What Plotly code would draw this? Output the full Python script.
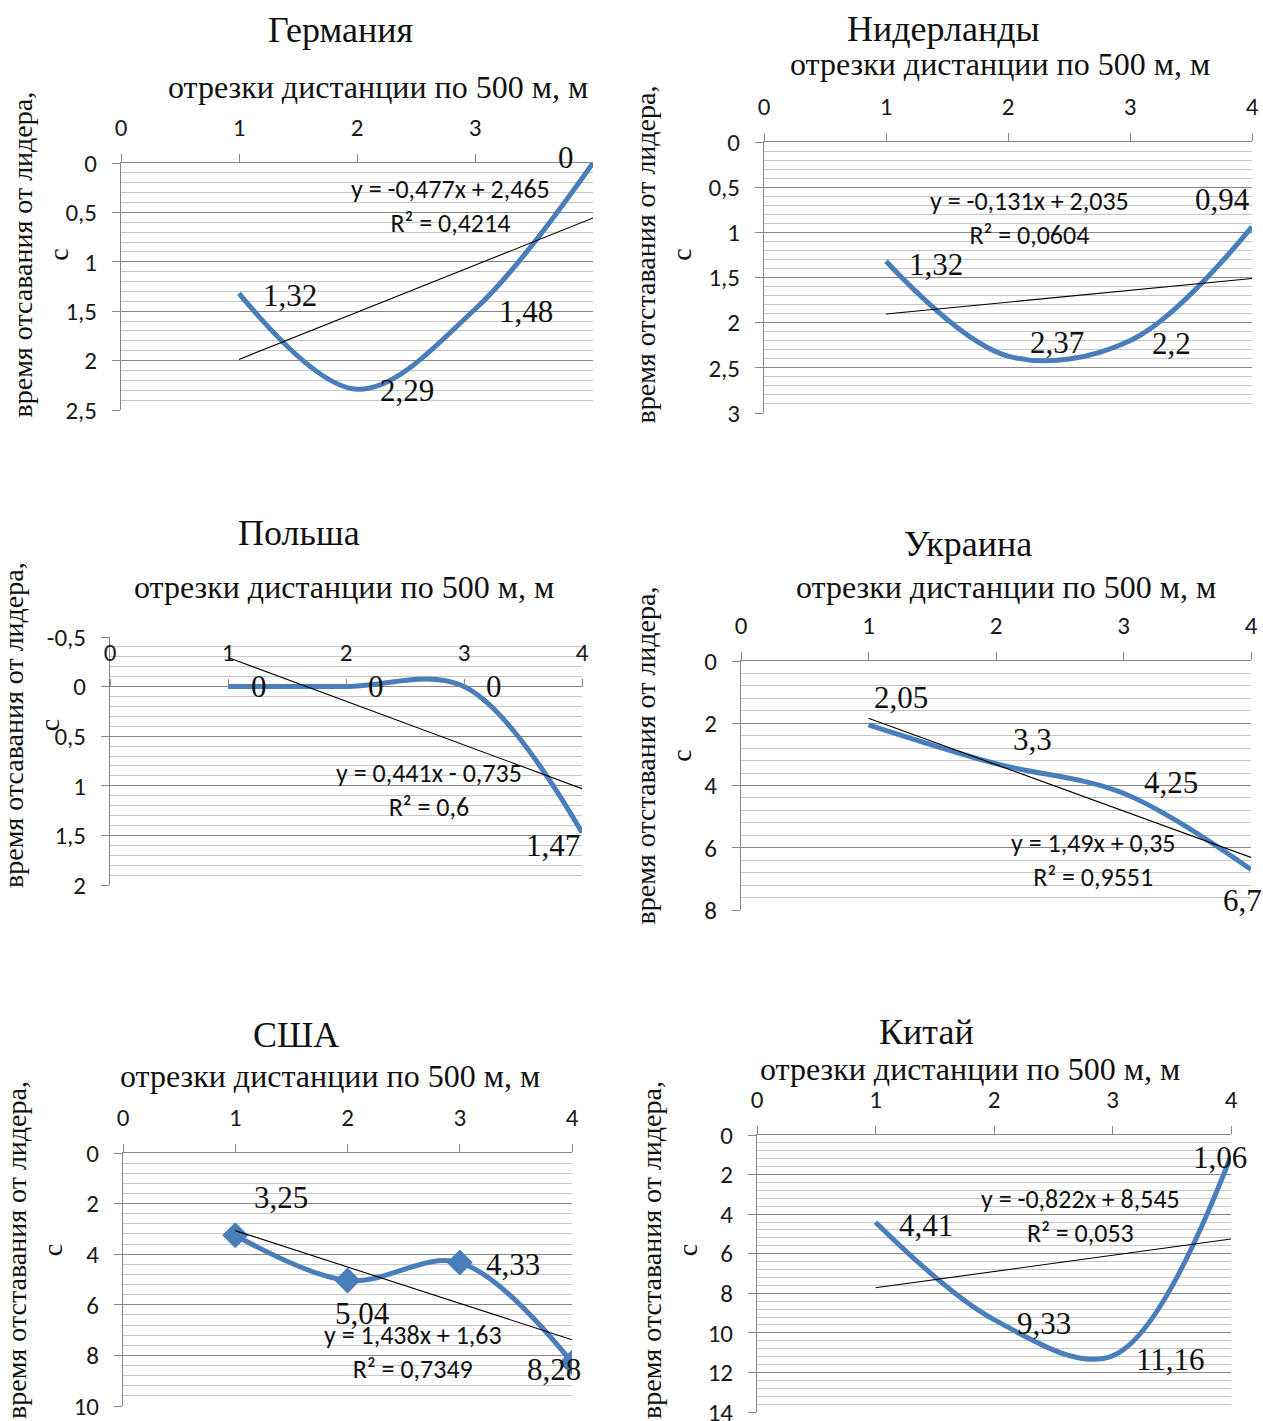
import plotly.graph_objects as go

W, H = 1263, 1421

# ---------------- data ----------------
segments = [1, 2, 3, 4]
x_tick_values = [0, 1, 2, 3, 4]

titles = ["Германия", "Нидерланды", "Польша", "Украина", "США", "Китай"]
x_title = "отрезки дистанции по 500 м, м"
y_titles = [
    "время отсавания от лидера,<br>с",
    "время отставания от лидера,<br>с",
    "время отсавания от лидера,<br>с",
    "время отставания от лидера,<br>с",
    "время отставания от лидера,<br>с",
    "время отставания от лидера,<br>с",
]

germany = [1.32, 2.29, 1.48, 0]
netherlands = [1.32, 2.37, 2.2, 0.94]
poland = [0, 0, 0, 1.47]
ukraine = [2.05, 3.3, 4.25, 6.7]
usa = [3.25, 5.04, 4.33, 8.28]
china = [4.41, 9.33, 11.16, 1.06]
series = [germany, netherlands, poland, ukraine, usa, china]

trend_slope = [-0.477, -0.131, 0.441, 1.49, 1.438, -0.822]
trend_intercept = [2.465, 2.035, -0.735, 0.35, 1.63, 8.545]
r_squared = ["0,4214", "0,0604", "0,6", "0,9551", "0,7349", "0,053"]

germany_y_ticks = [0, 0.5, 1, 1.5, 2, 2.5]
netherlands_y_ticks = [0, 0.5, 1, 1.5, 2, 2.5, 3]
poland_y_ticks = [-0.5, 0, 0.5, 1, 1.5, 2]
ukraine_y_ticks = [0, 2, 4, 6, 8]
usa_y_ticks = [0, 2, 4, 6, 8, 10]
china_y_ticks = [0, 2, 4, 6, 8, 10, 12, 14]
y_ticks = [germany_y_ticks, netherlands_y_ticks, poland_y_ticks,
           ukraine_y_ticks, usa_y_ticks, china_y_ticks]
y_minor_step = [0.1, 0.1, 0.1, 0.4, 0.4, 0.4]
x_shown_ticks = [[0, 1, 2, 3], x_tick_values, x_tick_values,
                 x_tick_values, x_tick_values, x_tick_values]

# ---------------- layout / style ----------------
plot_px = [  # left, right, top, bottom (pixels)
    (121, 593, 163, 410),
    (764, 1252, 142, 413),
    (110, 582, 637, 885),
    (741, 1251, 661, 910),
    (123, 572, 1153, 1406),
    (757, 1231, 1135, 1412),
]
title_px = [(340, 30), (943, 29), (299, 533), (968, 544), (296, 1035), (926, 1032)]
xtitle_px = [(378, 87), (1000, 64), (344, 587), (1006, 587), (330, 1076), (970, 1069)]
ytitle_px = [(39.5, 255), (662.5, 255), (31, 725), (662.5, 756), (34, 1250), (669, 1250)]
eq_px = [(450, 206), (1029, 218), (429, 790), (1093, 860), (413, 1352), (1080, 1216)]
label_shift = [  # (xshift, yshift) per point
    [(51, -2), (50, -1), (51, -2), (-27, 5)],
    [(50, -3), (49, 14), (41, -3), (-30, 27)],
    [(31, 0), (30, 0), (30, 0), (-29, -13)],
    [(32, 27), (36, 24), (47, 11), (-9, -31)],
    [(46, 38), (15, -33), (53, -2), (-18, -7)],
    [(50, -3), (50, -4), (58, -4), (-11, -2)],
]

SERIF = "Liberation Serif, Times New Roman, serif"
SANS = "Carlito, Lato, sans-serif"
BLUE = "#4A7EBB"
MAJOR = "#878787"
MINOR = "#c6c6c6"


def fmt(v):
    return f"{v:g}".replace(".", ",")


def px_x(p):
    return p / W


def px_y(p):
    return 1 - p / H


fig = go.Figure()
annotations = []

for i in range(6):
    n = i + 1
    xa = f"x{n}" if n > 1 else "x"
    ya = f"y{n}" if n > 1 else "y"
    xkey = f"xaxis{n}" if n > 1 else "xaxis"
    ykey = f"yaxis{n}" if n > 1 else "yaxis"
    l, r, t, b = plot_px[i]
    vals = series[i]
    yt = y_ticks[i]
    ymin, ymax = yt[0], yt[-1]

    # main smoothed series
    fig.add_trace(go.Scatter(
        x=segments, y=vals, xaxis=xa, yaxis=ya,
        mode="lines+markers" if titles[i] == "США" else "lines",
        line=dict(shape="spline", smoothing=1, color=BLUE, width=5),
        marker=dict(symbol="diamond", size=20, color=BLUE),
        showlegend=False, hoverinfo="skip",
    ))
    # linear trend line
    tx = [segments[0], segments[-1]]
    ty = [trend_slope[i] * x + trend_intercept[i] for x in tx]
    fig.add_trace(go.Scatter(
        x=tx, y=ty, xaxis=xa, yaxis=ya, mode="lines",
        line=dict(color="black", width=1.1),
        showlegend=False, hoverinfo="skip",
    ))

    dom_x = [px_x(l), px_x(r)]
    dom_y = [px_y(b), px_y(t)]
    xr = [0, 4]

    xaxis = dict(
        domain=dom_x, range=xr, side="top", automargin=False,
        tickmode="array", tickvals=x_shown_ticks[i],
        ticktext=[str(v) for v in x_shown_ticks[i]],
        ticks="outside", ticklen=8, tickcolor=MAJOR, tickwidth=1,
        ticklabelstandoff=8, ticklabeloverflow="allow",
        showgrid=False, zeroline=False,
        tickfont=dict(family=SANS, size=25, color="#1a1a1a"),
        fixedrange=True,
    )
    if titles[i] == "Польша":
        frac = (0 - ymin) / (ymax - ymin)
        xaxis.update(anchor="free", position=dom_y[1] - frac * (dom_y[1] - dom_y[0]),
                     showline=False)
    else:
        xaxis.update(anchor=ya, showline=True, linecolor=MAJOR, linewidth=1)

    yaxis = dict(
        domain=dom_y, range=[ymax, ymin], anchor=xa, automargin=False,
        tickmode="array", tickvals=yt, ticktext=[fmt(v) for v in yt],
        ticks="outside", ticklen=8, tickcolor=MAJOR, tickwidth=1,
        ticklabelstandoff=10, ticklabeloverflow="allow",
        showline=True, linecolor=MAJOR, linewidth=1,
        showgrid=True, gridcolor=MAJOR, gridwidth=1,
        minor=dict(tick0=0, dtick=y_minor_step[i], showgrid=True,
                   gridcolor=MINOR, gridwidth=1, ticks=""),
        zeroline=False,
        tickfont=dict(family=SANS, size=25, color="#1a1a1a"),
        fixedrange=True,
    )
    fig.layout[xkey] = xaxis
    fig.layout[ykey] = yaxis

    # data labels
    for j, v in enumerate(vals):
        dx, dy = label_shift[i][j]
        annotations.append(dict(
            x=segments[j], y=v, xref=xa, yref=ya, text=fmt(v),
            showarrow=False, xshift=dx, yshift=dy,
            xanchor="center", yanchor="middle",
            font=dict(family=SERIF, size=31, color="#111"),
        ))

    # titles
    cx, cy = title_px[i]
    annotations.append(dict(x=px_x(cx), y=px_y(cy), xref="paper", yref="paper",
                            text=titles[i], showarrow=False,
                            xanchor="center", yanchor="middle",
                            font=dict(family=SERIF, size=36, color="#111")))
    cx, cy = xtitle_px[i]
    annotations.append(dict(x=px_x(cx), y=px_y(cy), xref="paper", yref="paper",
                            text=x_title, showarrow=False,
                            xanchor="center", yanchor="middle",
                            font=dict(family=SERIF, size=32, color="#111")))
    cx, cy = ytitle_px[i]
    annotations.append(dict(x=px_x(cx), y=px_y(cy), xref="paper", yref="paper",
                            text=y_titles[i], showarrow=False, textangle=-90,
                            xanchor="center", yanchor="middle",
                            font=dict(family=SERIF, size=28, color="#111")))
    # trendline equation
    a, c = trend_slope[i], trend_intercept[i]
    sign = "+" if c >= 0 else "-"
    eq = f"y = {fmt(a)}x {sign} {fmt(abs(c))}<br>R² = {r_squared[i]}"
    cx, cy = eq_px[i]
    annotations.append(dict(x=px_x(cx), y=px_y(cy), xref="paper", yref="paper",
                            text=eq, showarrow=False,
                            xanchor="center", yanchor="middle",
                            font=dict(family=SANS, size=26, color="#111")))

fig.update_layout(
    template="none",
    width=W, height=H,
    margin=dict(l=0, r=0, t=0, b=0, pad=0, autoexpand=False),
    paper_bgcolor="white", plot_bgcolor="white",
    separators=", ",
    annotations=annotations,
    showlegend=False,
)

fig.write_html("out.html")
